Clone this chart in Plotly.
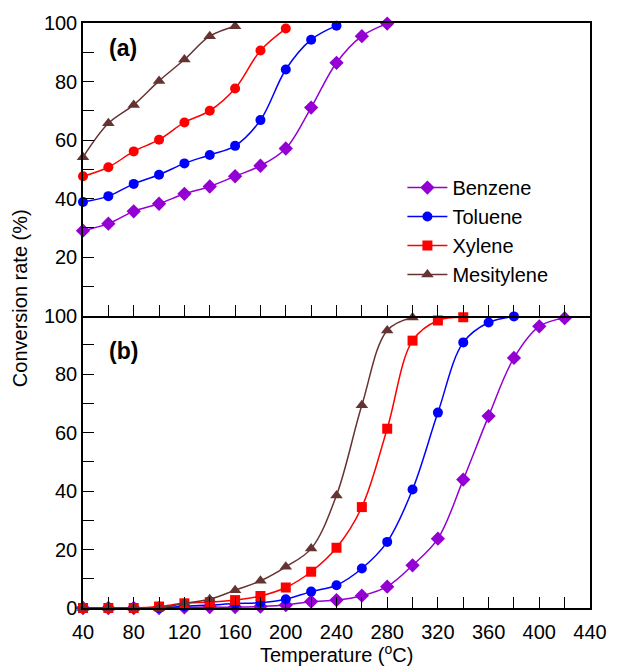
import plotly.graph_objects as go

# Temperatures (°C) and conversion rates (%) for panel (a)
temp_a_benzene = [40, 60, 80, 100, 120, 140, 160, 180, 200, 220, 240, 260, 280]
conv_a_benzene = [29.0, 31.4, 35.6, 38.2, 41.6, 44.1, 47.6, 51.2, 57.1, 71.1, 86.4, 95.5, 99.8]

temp_a_toluene = [40, 60, 80, 100, 120, 140, 160, 180, 200, 220, 240]
conv_a_toluene = [38.8, 40.8, 45.0, 48.1, 52.0, 54.9, 58.0, 66.8, 84.1, 94.3, 99.1]

temp_a_xylene = [40, 60, 80, 100, 120, 140, 160, 180, 200]
conv_a_xylene = [47.6, 50.7, 56.1, 60.1, 66.0, 70.0, 77.6, 90.6, 98.1]

temp_a_mesitylene = [40, 60, 80, 100, 120, 140, 160]
conv_a_mesitylene = [54.1, 65.7, 72.0, 80.2, 87.5, 95.5, 98.9]

# Temperatures (°C) and conversion rates (%) for panel (b)
temp_b_benzene = [40, 60, 80, 100, 120, 140, 160, 180, 200, 220, 240, 260, 280, 300, 320, 340, 360, 380, 400, 420]
conv_b_benzene = [0, 0, 0, 0, 0.2, 0.3, 0.3, 0.5, 1.0, 2.2, 2.7, 4.2, 7.3, 14.6, 23.7, 43.9, 65.6, 85.5, 96.3, 99.1]

temp_b_toluene = [40, 60, 80, 100, 120, 140, 160, 180, 200, 220, 240, 260, 280, 300, 320, 340, 360, 380]
conv_b_toluene = [0, 0, 0, 0, 0.6, 1.0, 1.5, 1.8, 3.0, 5.6, 7.8, 13.5, 22.6, 40.5, 66.8, 90.8, 97.6, 99.7]

temp_b_xylene = [40, 60, 80, 100, 120, 140, 160, 180, 200, 220, 240, 260, 280, 300, 320, 340]
conv_b_xylene = [0, 0, 0, 0.5, 1.6, 2.0, 2.7, 4.1, 7.0, 12.4, 20.6, 34.5, 61.3, 91.4, 98.3, 99.4]

temp_b_mesitylene = [40, 60, 80, 100, 120, 140, 160, 180, 200, 220, 240, 260, 280, 300]
conv_b_mesitylene = [0, 0, 0, 0, 1.6, 3.0, 6.1, 9.3, 14.1, 20.3, 38.5, 69.3, 94.9, 99.3]

compounds = ["Benzene", "Toluene", "Xylene", "Mesitylene"]
colors = {"Benzene": "#9400D3", "Toluene": "#0000FF", "Xylene": "#FF0000", "Mesitylene": "#663333"}
symbols_a = {"Benzene": "diamond", "Toluene": "circle", "Xylene": "circle", "Mesitylene": "triangle-up"}
symbols_b = {"Benzene": "diamond", "Toluene": "circle", "Xylene": "square", "Mesitylene": "triangle-up"}
sizes = {"diamond": 11, "circle": 10, "square": 10, "triangle-up": 11}

series_a = {
    "Benzene": (temp_a_benzene, conv_a_benzene),
    "Toluene": (temp_a_toluene, conv_a_toluene),
    "Xylene": (temp_a_xylene, conv_a_xylene),
    "Mesitylene": (temp_a_mesitylene, conv_a_mesitylene),
}
series_b = {
    "Benzene": (temp_b_benzene, conv_b_benzene),
    "Toluene": (temp_b_toluene, conv_b_toluene),
    "Xylene": (temp_b_xylene, conv_b_xylene),
    "Mesitylene": (temp_b_mesitylene, conv_b_mesitylene),
}

FONT = "Arial, 'Liberation Sans', sans-serif"

fig = go.Figure()

for name in compounds:
    x, y = series_a[name]
    sym = symbols_a[name]
    fig.add_trace(go.Scatter(
        x=x, y=y, name=name, legendgroup=name, showlegend=False,
        mode="lines+markers", xaxis="x2", yaxis="y2", cliponaxis=False,
        line=dict(color=colors[name], width=1.5, shape="spline", smoothing=1.0),
        marker=dict(symbol=sym, size=sizes[sym], color=colors[name]),
    ))

for name in compounds:
    x, y = series_b[name]
    sym = symbols_b[name]
    fig.add_trace(go.Scatter(
        x=x, y=y, name=name, legendgroup=name, showlegend=True,
        mode="lines+markers", xaxis="x", yaxis="y", cliponaxis=False,
        line=dict(color=colors[name], width=1.5, shape="spline", smoothing=1.0),
        marker=dict(symbol=sym, size=sizes[sym], color=colors[name]),
    ))

tick_font = dict(family=FONT, size=20, color="black")
minor_ticks = dict(ticks="inside", ticklen=11, tickwidth=1.2, tickcolor="black")


def axis_style(**kw):
    base = dict(
        showline=True, linecolor="black", linewidth=1.5, mirror=True,
        ticks="inside", ticklen=11, tickwidth=1.2, tickcolor="black",
        showgrid=False, zeroline=False, tickfont=tick_font,
    )
    base.update(kw)
    return base


fig.update_layout(
    width=619, height=666,
    margin=dict(l=83, r=20, t=20, b=58),
    paper_bgcolor="white", plot_bgcolor="white",
    font=dict(family=FONT, size=20, color="black"),
    # lower panel: its top edge is drawn by the upper panel's x axis line
    xaxis=axis_style(
        range=[40, 440], tick0=40, dtick=40, anchor="y", mirror=False,
        ticklabelstandoff=5,
        minor=dict(dtick=20, **minor_ticks),
    ),
    xaxis2=axis_style(
        range=[40, 440], tick0=40, dtick=20, anchor="y2",
        showticklabels=False, matches="x",
    ),
    yaxis=axis_style(
        domain=[0, 0.5], range=[0, 100],
        tickvals=[0, 20, 40, 60, 80, 100],
        minor=dict(dtick=10, **minor_ticks),
    ),
    yaxis2=axis_style(
        domain=[0.5, 1], range=[0, 100],
        tickvals=[20, 40, 60, 80, 100],
        minor=dict(dtick=10, **minor_ticks),
    ),
    legend=dict(
        x=0.63, y=0.752, xanchor="left", yanchor="top",
        bgcolor="rgba(0,0,0,0)", font=dict(family=FONT, size=20, color="black"),
        itemwidth=40, tracegroupgap=0,
    ),
    annotations=[
        dict(text="(a)", x=0.048, y=0.957, xref="paper", yref="paper",
             xanchor="left", yanchor="middle", showarrow=False,
             font=dict(family=FONT, size=23, color="black", weight="bold")),
        dict(text="(b)", x=0.048, y=0.439, xref="paper", yref="paper",
             xanchor="left", yanchor="middle", showarrow=False,
             font=dict(family=FONT, size=23, color="black", weight="bold")),
        dict(text="Temperature (<sup>o</sup>C)", x=0.5, y=-0.078, xref="paper", yref="paper",
             xanchor="center", yanchor="middle", showarrow=False,
             font=dict(family=FONT, size=20, color="black")),
        dict(text="Conversion rate (%)", x=-0.125, y=0.529, xref="paper", yref="paper",
             xanchor="center", yanchor="middle", textangle=-90, showarrow=False,
             font=dict(family=FONT, size=20, color="black")),
    ],
)

fig.write_html("out.html")
